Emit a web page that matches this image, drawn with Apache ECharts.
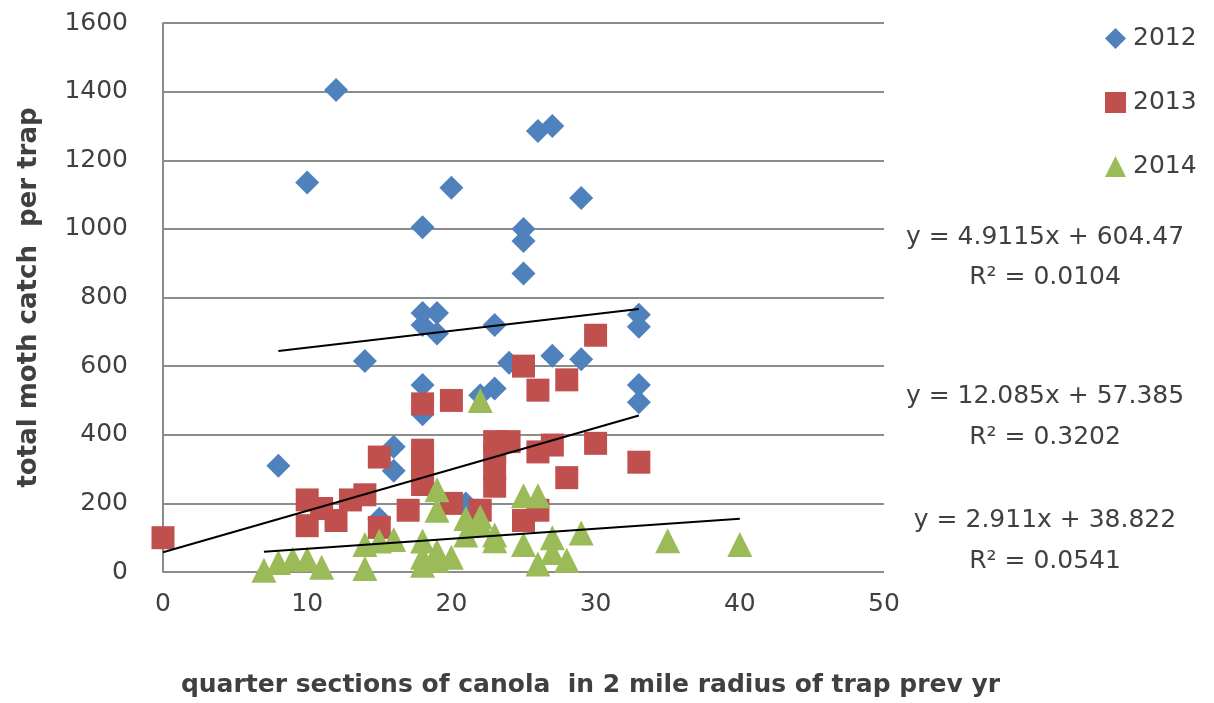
<!DOCTYPE html>
<html>
<head>
<meta charset="utf-8">
<script src="https://cdn.jsdelivr.net/npm/echarts@6/dist/echarts.min.js"></script>
<style>html,body{margin:0;padding:0;background:#fff}#c{width:1214px;height:703px}</style>
</head>
<body>
<div id="c"></div>
<script>
// ---- data ----
const seriesNames = ['2012', '2013', '2014'];
const x2012 = [8, 10, 12, 14, 15, 16, 16, 18, 18, 18, 18, 18, 19, 19, 20, 21, 22, 23, 23, 24, 25, 25, 25, 26, 27, 27, 29, 29, 33, 33, 33, 33];
const y2012 = [310, 1135, 1405, 615, 155, 365, 295, 1005, 755, 720, 545, 460, 755, 695, 1120, 200, 515, 720, 535, 610, 1000, 965, 870, 1285, 1300, 630, 1090, 620, 750, 715, 545, 495];
const x2013 = [0, 10, 10, 11, 12, 13, 14, 15, 15, 17, 18, 18, 18, 18, 18, 20, 20, 22, 23, 23, 23, 23, 24, 25, 25, 26, 26, 26, 27, 28, 28, 30, 30, 33];
const y2013 = [100, 210, 135, 185, 150, 210, 225, 335, 130, 180, 490, 355, 320, 285, 255, 500, 200, 180, 380, 345, 300, 250, 380, 600, 150, 530, 350, 180, 370, 560, 275, 690, 375, 320];
const x2014 = [7, 8, 9, 10, 11, 14, 14, 15, 16, 18, 18, 18, 19, 19, 19, 19, 20, 21, 21, 22, 22, 22, 23, 23, 25, 25, 26, 26, 27, 27, 28, 29, 35, 40];
const y2014 = [5, 28, 37, 37, 14, 10, 80, 90, 95, 90, 43, 20, 240, 180, 34, 60, 43, 156, 108, 500, 160, 140, 108, 91, 222, 80, 222, 23, 100, 57, 34, 114, 91, 80];
// trendline equations as printed on the chart
const slopes = [4.9115, 12.085, 2.911];
const intercepts = [604.47, 57.385, 38.822];
const r2Labels = ['0.0104', '0.3202', '0.0541'];
const slopeLabels = ['4.9115', '12.085', '2.911'];
const interceptLabels = ['604.47', '57.385', '38.822'];
const yTicks = [0, 200, 400, 600, 800, 1000, 1200, 1400, 1600];
const xTicks = [0, 10, 20, 30, 40, 50];

// ---- build ----
const colors = ['#4F81BD', '#C0504D', '#9BBB59'];
const symbols = ['diamond', 'rect', 'triangle'];
const symSizes = [24, 23, 25];
const xs = [x2012, x2013, x2014];
const ys = [y2012, y2013, y2014];
const font = '"DejaVu Sans", Verdana, sans-serif';
const txt = '#404040';

const series = [];
for (let i = 0; i < 3; i++) {
  series.push({
    name: seriesNames[i], type: 'scatter', symbol: symbols[i], symbolSize: symSizes[i],
    itemStyle: { color: colors[i], opacity: 1 },
    data: xs[i].map((x, k) => [x, ys[i][k]]), z: 2
  });
}
for (let i = 0; i < 3; i++) {
  const xmin = Math.min(...xs[i]), xmax = Math.max(...xs[i]);
  series.push({
    type: 'line', symbol: 'none', silent: true, z: 3,
    lineStyle: { color: '#000', width: 2 },
    data: [[xmin, slopes[i] * xmin + intercepts[i]], [xmax, slopes[i] * xmax + intercepts[i]]]
  });
}

const eqY = [[237, 277], [396, 437], [520, 561]];
const graphics = [];
for (let i = 0; i < 3; i++) {
  graphics.push({ type: 'text', x: 1045, y: eqY[i][0], style: { text: 'y = ' + slopeLabels[i] + 'x + ' + interceptLabels[i], font: '25px ' + font, fill: txt, textAlign: 'center', textVerticalAlign: 'middle' } });
  graphics.push({ type: 'text', x: 1045, y: eqY[i][1], style: { text: 'R\u00B2 = ' + r2Labels[i], font: '25px ' + font, fill: txt, textAlign: 'center', textVerticalAlign: 'middle' } });
}

const chart = echarts.init(document.getElementById('c'), null, { renderer: 'canvas' });
chart.setOption({
  animation: false,
  backgroundColor: '#fff',
  grid: { left: 163, right: 330, top: 23, bottom: 118, containLabel: false },
  legend: {
    data: seriesNames.map((n, i) => ({ name: n, icon: symbols[i] })),
    orient: 'vertical', left: 1100, top: 21, itemGap: 39, itemWidth: 21, itemHeight: 21,
    textStyle: { fontSize: 25, color: txt, fontFamily: font, padding: [0, 0, 0, 2] }
  },
  xAxis: {
    type: 'value', min: xTicks[0], max: xTicks[xTicks.length - 1], interval: 10,
    name: 'quarter sections of canola  in 2 mile radius of trap prev yr', nameLocation: 'middle', nameGap: 101,
    nameTextStyle: { fontSize: 25, fontWeight: 'bold', color: txt, fontFamily: font, padding: [0, 0, 0, 134] },
    axisLine: { show: false }, axisTick: { show: false }, splitLine: { show: false },
    axisLabel: { fontSize: 25, color: txt, fontFamily: font, margin: 20 }
  },
  yAxis: {
    type: 'value', min: yTicks[0], max: yTicks[yTicks.length - 1], interval: 200,
    name: 'total moth catch  per trap', nameLocation: 'middle', nameGap: 121,
    nameTextStyle: { fontSize: 26, fontWeight: 'bold', color: txt, fontFamily: font },
    axisLine: { show: true, lineStyle: { color: '#8C8C8C', width: 2 } }, axisTick: { show: false },
    splitLine: { show: true, lineStyle: { color: '#8C8C8C', width: 2 } },
    axisLabel: { fontSize: 25, color: txt, fontFamily: font, margin: 35, formatter: v => String(v) }
  },
  series: series,
  graphic: graphics
});
</script>
</body>
</html>
